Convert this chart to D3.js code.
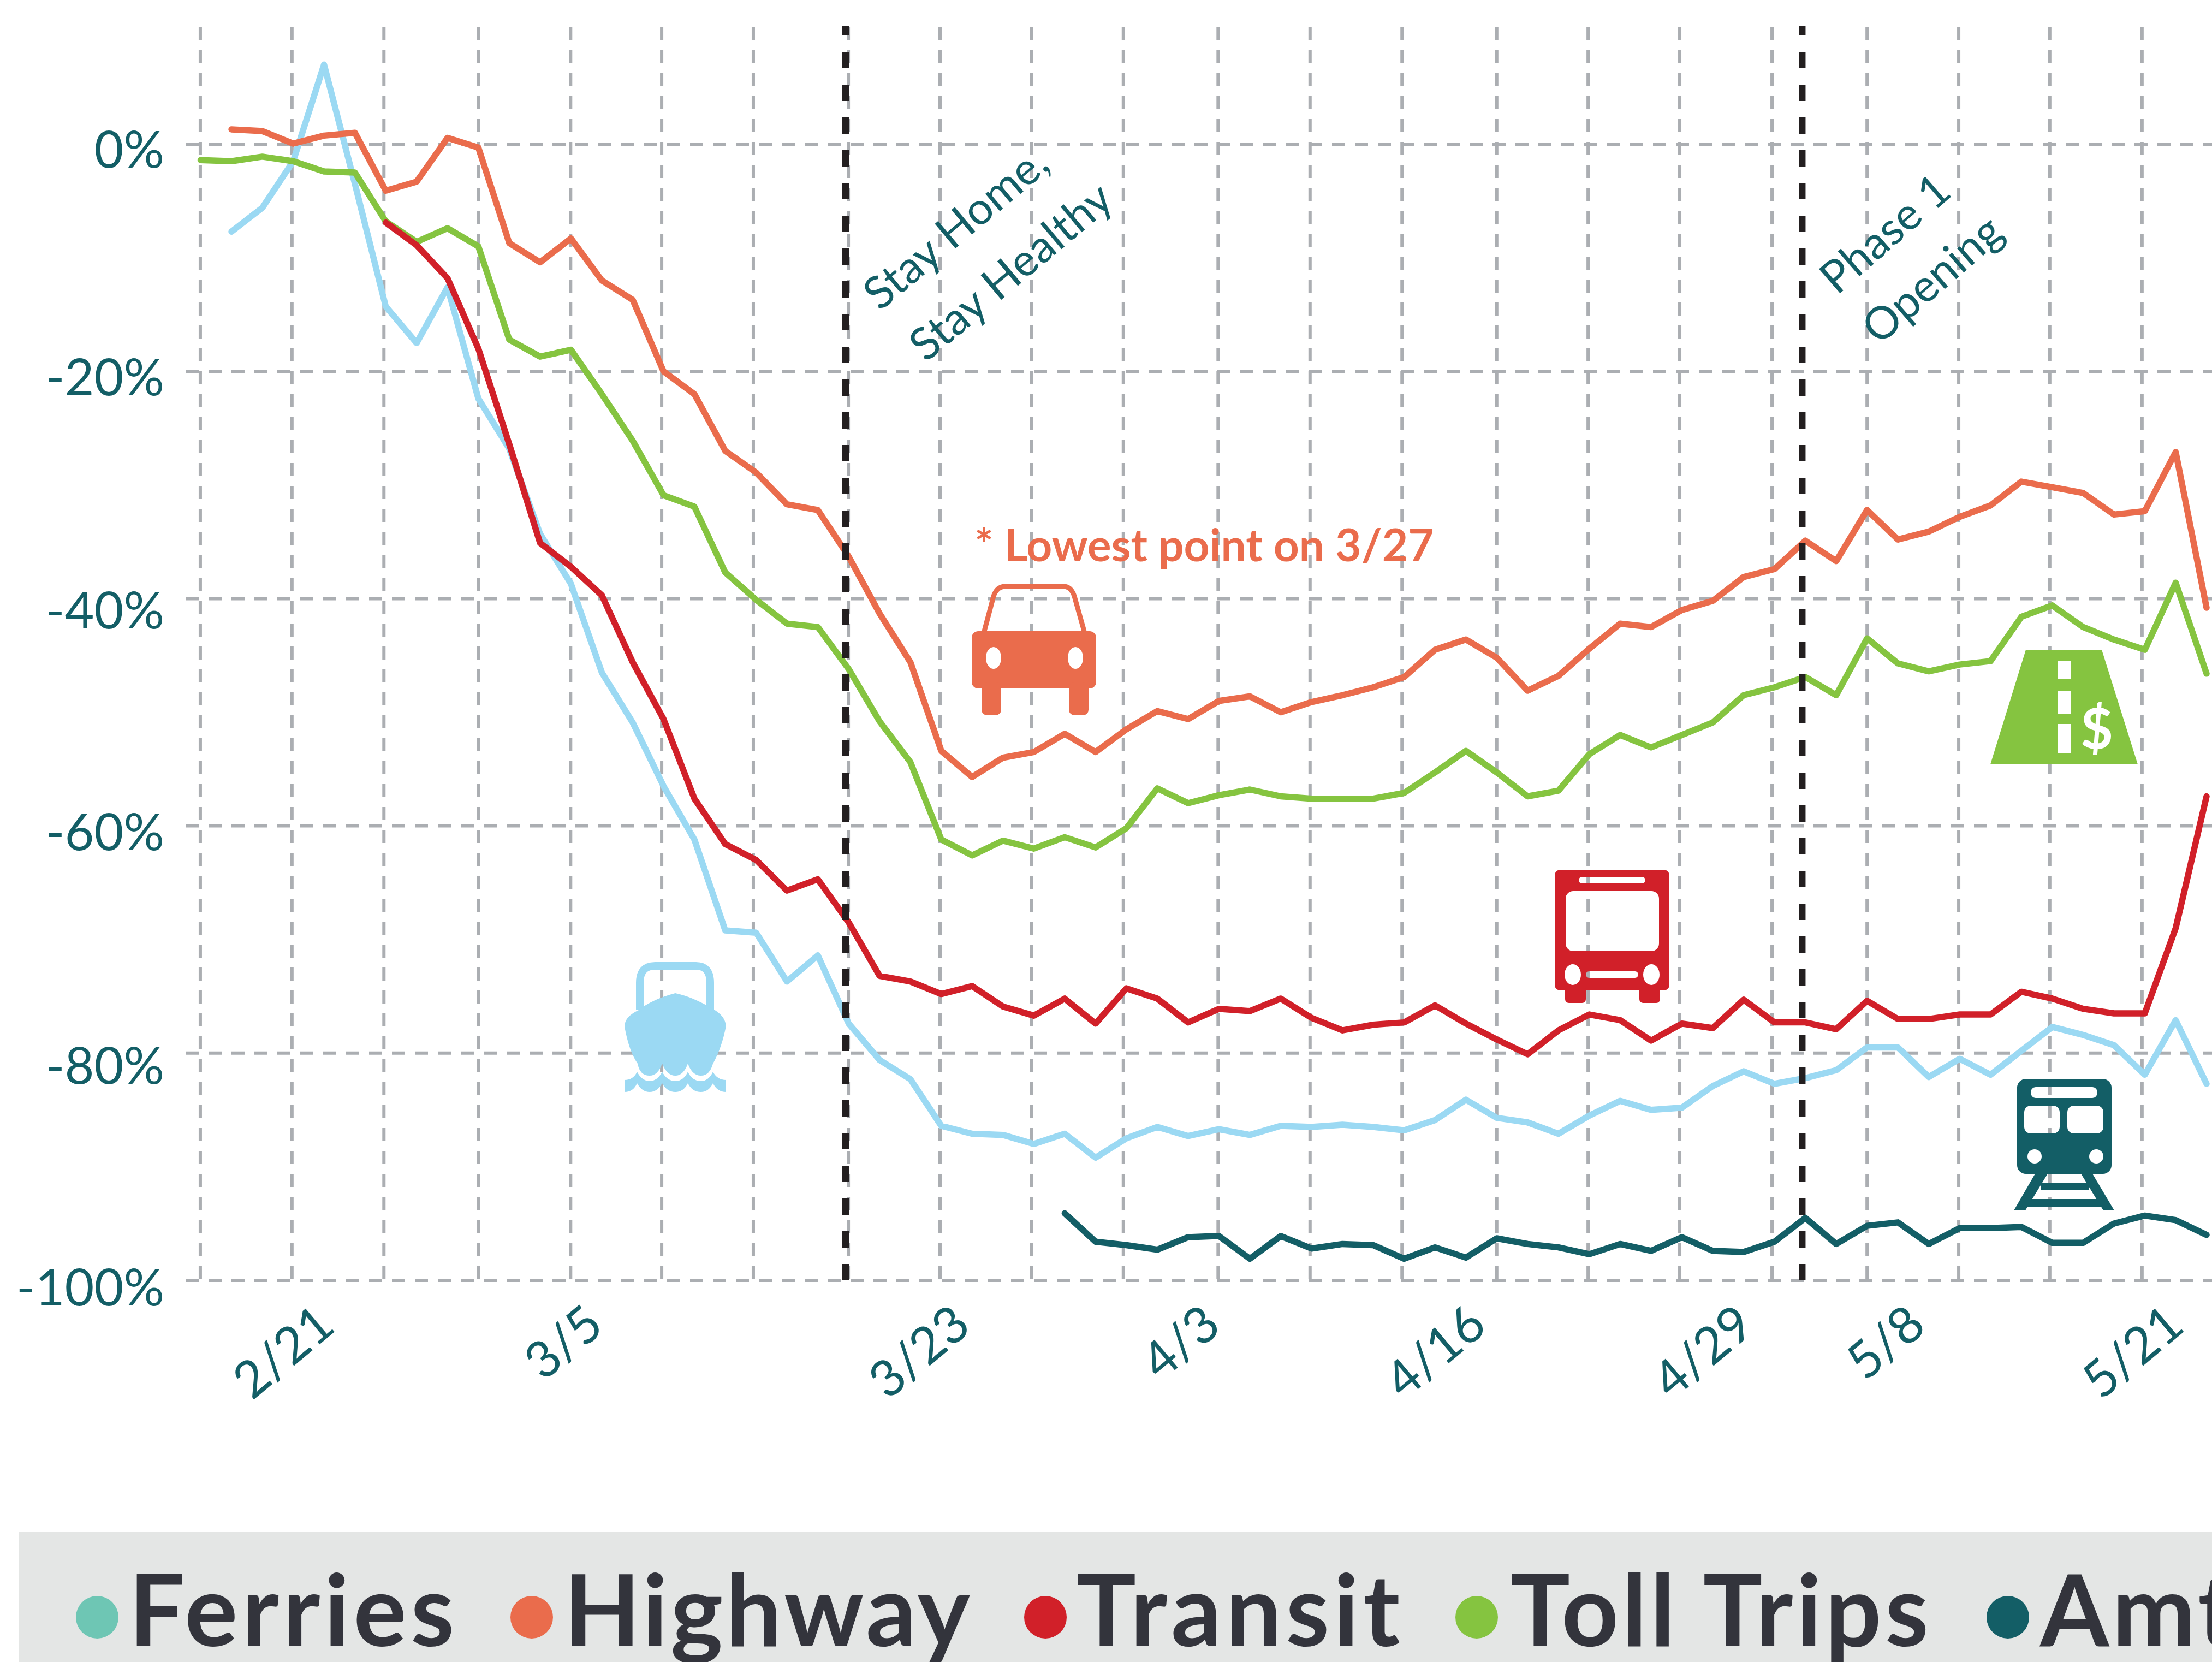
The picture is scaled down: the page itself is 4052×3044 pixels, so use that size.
<!DOCTYPE html>
<html>
<head>
<meta charset="utf-8">
<script src="https://cdn.jsdelivr.net/npm/d3@7"></script>
<style>
    html, body { margin: 0; padding: 0; background: #fff; }
    svg { display: block; font-family: Lato, sans-serif; }
</style>
</head>
<body>
<div id="visual"></div>
<script>
// Values, % change, one entry per day step
const ferries = [-7.7,-5.6,-1.5,7.0,-3.5,-14.3,-17.5,-12.6,-22.4,-26.8,-34.3,-38.7,-46.5,-50.9,-56.5,-61.2,-69.2,-69.4,-73.7,-71.4,-77.4,-80.6,-82.3,-86.4,-87.1,-87.2,-88.0,-87.1,-89.2,-87.5,-86.5,-87.3,-86.7,-87.2,-86.4,-86.5,-86.3,-86.5,-86.8,-85.9,-84.1,-85.7,-86.1,-87.1,-85.5,-84.2,-85.0,-84.8,-82.9,-81.6,-82.7,-82.2,-81.5,-79.5,-79.5,-82.1,-80.5,-81.9,-79.8,-77.7,-78.4,-79.3,-81.9,-77.1,-82.7];
const highway = [1.3,1.15,0.05,0.75,1.0,-4.1,-3.3,0.55,-0.3,-8.7,-10.4,-8.3,-12.0,-13.7,-20.0,-22.0,-27.0,-28.9,-31.7,-32.2,-36.3,-41.3,-45.6,-53.4,-55.7,-54.0,-53.5,-51.9,-53.5,-51.5,-49.9,-50.6,-49.0,-48.6,-50.0,-49.1,-48.5,-47.8,-46.9,-44.5,-43.6,-45.2,-48.1,-46.8,-44.4,-42.2,-42.5,-41.0,-40.2,-38.1,-37.4,-34.9,-36.7,-32.2,-34.8,-34.1,-32.8,-31.8,-29.7,-30.2,-30.7,-32.6,-32.3,-27.1,-40.8];
const transit = [-6.9,-8.9,-11.8,-18.0,-26.4,-35.1,-37.2,-39.7,-45.6,-50.6,-57.6,-61.6,-63.0,-65.7,-64.7,-68.5,-73.2,-73.7,-74.8,-74.1,-75.9,-76.7,-75.2,-77.4,-74.3,-75.2,-77.3,-76.1,-76.3,-75.2,-76.9,-78.0,-77.5,-77.3,-75.8,-77.4,-78.8,-80.1,-78.0,-76.6,-77.1,-78.9,-77.4,-77.8,-75.3,-77.3,-77.3,-77.9,-75.4,-77.0,-77.0,-76.6,-76.6,-74.6,-75.2,-76.1,-76.5,-76.5,-69.0,-57.4];
const tollTrips = [-1.4,-1.5,-1.1,-1.5,-2.4,-2.5,-6.8,-8.6,-7.4,-9.0,-17.2,-18.7,-18.1,-22.0,-26.1,-30.9,-31.9,-37.7,-40.1,-42.2,-42.5,-46.2,-50.8,-54.4,-61.2,-62.6,-61.3,-62.0,-61.0,-61.9,-60.2,-56.7,-58.0,-57.3,-56.8,-57.4,-57.6,-57.6,-57.6,-57.1,-55.3,-53.4,-55.3,-57.4,-56.9,-53.7,-52.0,-53.1,-52.0,-50.9,-48.5,-47.8,-46.9,-48.5,-43.5,-45.7,-46.4,-45.8,-45.5,-41.6,-40.6,-42.5,-43.6,-44.5,-38.6,-46.6];
const amtrak = [-94.1,-96.6,-96.9,-97.3,-96.2,-96.1,-98.1,-96.1,-97.2,-96.8,-96.9,-98.1,-97.1,-98.0,-96.3,-96.8,-97.1,-97.7,-96.8,-97.4,-96.2,-97.4,-97.5,-96.6,-94.5,-96.8,-95.2,-94.9,-96.8,-95.4,-95.4,-95.3,-96.7,-96.7,-95.0,-94.3,-94.7,-96.0];

// first day step of each series on the x scale
const ferriesStart = 0, highwayStart = 0, transitStart = 5, tollStart = -1, amtrakStart = 27;

const yTicks = [0, -20, -40, -60, -80, -100];
const gridTicks = [-1.01,1.96,4.94,8.01,10.99,13.94,16.91,19.99,22.96,25.93,28.90,31.97,34.95,37.93,41.0,43.96,46.93,49.92,53.0,55.97,58.92,61.91];
const dateLabels = ["2/21","3/5","3/23","4/3","4/16","4/29","5/8","5/21"];
const dateTicks = [3.43,12.14,24.03,32.14,40.75,49.43,54.98,63.35];
const eventTicks = [19.9, 50.9];

const legendNames = ["Ferries","Highway","Transit","Toll Trips","Amtrak"];
const legendColors = ["#6ec6b4","#ea6c4c","#d12029","#85c440","#135e66"];
const legendDotX = [178, 974, 1915, 2705, 3678];
const legendTextX = [236, 1033, 1972, 2767, 3737];
const legendSpacing = [7.5, 5, 7.7, 6.3, 6];

const teal = "#135e66", gridColor = "#abaeb2";
const width = 4052, height = 3044;
const gridTop = 50, gridBottom = 2345, gridLeft = 340;

const svg = d3.select("#visual").append("svg")
    .attr("width", width)
    .attr("height", height);

// Scales
const x = d3.scaleLinear().domain([-1, 64]).range([367.5, 4042]);
const y = d3.scaleLinear().domain([0, -100]).range([264, gridBottom]);

// Grid
const xGrid = svg.append("g")
    .attr("transform", "translate(0," + gridTop + ")")
    .call(d3.axisTop(x).tickValues(gridTicks).tickSize(-(gridBottom - gridTop)).tickFormat("").offset(0));
const yGrid = svg.append("g")
    .attr("transform", "translate(" + gridLeft + ",0)")
    .call(d3.axisLeft(y).tickValues(yTicks).tickSize(-(width - gridLeft)).tickFormat("").offset(0));
[xGrid, yGrid].forEach(g => {
    g.select(".domain").remove();
    g.selectAll("line")
        .attr("stroke", gridColor)
        .attr("stroke-width", 6)
        .attr("stroke-dasharray", "24 18");
});

// Y labels
const yLabelNudge = [43, 44, 55, 44, 56, 46];
const yAxis = svg.append("g")
    .attr("transform", "translate(301,0)")
    .call(d3.axisLeft(y).tickValues(yTicks).tickSize(0).tickPadding(0).tickFormat(d => d + "%").offset(0));
yAxis.select(".domain").remove();
yAxis.selectAll("text")
    .attr("font-family", "Lato")
    .attr("font-size", 93)
    .attr("fill", teal)
    .attr("dy", 0)
    .attr("y", (d, i) => yLabelNudge[i]);

// X labels
const xAxis = svg.append("g")
    .attr("transform", "translate(0,2435)")
    .call(d3.axisBottom(x).tickValues(dateTicks).tickSize(0).tickPadding(0).tickFormat((d, i) => dateLabels[i]).offset(0));
xAxis.select(".domain").remove();
xAxis.selectAll("text")
    .attr("font-family", "Lato")
    .attr("font-size", 93)
    .attr("fill", teal)
    .attr("y", 0)
    .attr("dy", 0)
    .attr("text-anchor", "end")
    .attr("transform", "rotate(-40)");

// Icons sit under the lines, holes let the grid show through
const rr = (x0, y0, x1, y1, r) => {
    const p = d3.path();
    p.moveTo(x0 + r, y0);
    p.arcTo(x1, y0, x1, y1, r);
    p.arcTo(x1, y1, x0, y1, r);
    p.arcTo(x0, y1, x0, y0, r);
    p.arcTo(x0, y0, x1, y0, r);
    p.closePath();
    return p.toString();
};
const oval = (cx, cy, rx, ry) =>
    "M" + (cx - rx) + "," + cy + "a" + rx + "," + ry + " 0 1,0 " + (2 * rx) + ",0a" + rx + "," + ry + " 0 1,0 " + (-2 * rx) + ",0Z";
const icons = svg.append("g").attr("fill-rule", "evenodd");

// car
icons.append("path").attr("fill", "#ea6c4c").attr("d",
    rr(1780, 1156, 2008, 1261, 12) + oval(1820, 1205, 14, 20) + oval(1970, 1205, 14, 20));
icons.append("path").attr("fill", "#ea6c4c").attr("d", rr(1798, 1250, 1834, 1310, 10));
icons.append("path").attr("fill", "#ea6c4c").attr("d", rr(1958, 1250, 1994, 1310, 10));
icons.append("path").attr("fill", "none").attr("stroke", "#ea6c4c").attr("stroke-width", 9)
    .attr("d", "M1803,1156L1820,1092Q1826,1074 1842,1074H1948Q1962,1074 1968,1092L1986,1156");

// bus
icons.append("path").attr("fill", "#d12029").attr("d",
    rr(2848, 1593, 3058, 1814, 10) + rr(2868, 1632, 3039, 1742, 14) + rr(2892, 1606, 3014, 1618, 6) +
    rr(2905, 1779, 3001, 1791, 6) + oval(2881, 1785, 15, 19) + oval(3025, 1785, 15, 19));
icons.append("path").attr("fill", "#d12029").attr("d", rr(2867, 1805, 2905, 1837, 7));
icons.append("path").attr("fill", "#d12029").attr("d", rr(3003, 1805, 3041, 1837, 7));

// toll road
icons.append("path").attr("fill", "#85c440").attr("d",
    "M3711,1190H3850L3916,1400H3646Z" + "M3769,1211H3793V1244H3769Z" + "M3769,1265H3793V1307H3769Z" + "M3769,1326H3793V1380H3769Z");
icons.append("text")
    .attr("x", 3841).attr("y", 1371)
    .attr("text-anchor", "middle")
    .attr("font-size", 104)
    .attr("font-weight", 700)
    .attr("fill", "#fff")
    .text("$");

// train
icons.append("path").attr("fill", teal).attr("d",
    rr(3695, 1976, 3868, 2150, 16) + rr(3720, 1991, 3842, 2011, 9) + rr(3708, 2025, 3773, 2076, 12) +
    rr(3787, 2025, 3853, 2076, 12) + oval(3727, 2118, 13, 13) + oval(3840, 2118, 13, 13));
icons.append("path").attr("fill", teal).attr("d",
    "M3729,2148H3752L3710,2217H3689Z" + "M3811,2148H3832L3873,2217H3853Z");
icons.append("path").attr("fill", teal).attr("d",
    "M3738,2167H3826V2180H3738Z");
icons.append("path").attr("fill", teal).attr("d",
    "M3712,2196H3850V2210H3712Z");

// ferry
const ferryBlue = "#9bd9f3";
icons.append("path").attr("fill", "none").attr("stroke", ferryBlue).attr("stroke-width", 14)
    .attr("d", "M1172,1850V1800Q1172,1769 1200,1769H1275Q1301,1769 1301,1800V1850");
icons.append("path").attr("fill", ferryBlue).attr("d",
    "M1237,1819Q1195,1830 1170,1850Q1144,1862 1144,1880Q1152,1925 1168,1948Q1172,1970 1190,1970Q1205,1970 1213,1948Q1222,1970 1237,1970Q1252,1970 1260,1948Q1268,1970 1284,1970Q1300,1970 1306,1948Q1322,1920 1330,1879Q1328,1860 1306,1848Q1270,1826 1237,1819Z");
icons.append("path").attr("fill", ferryBlue).attr("d",
    "M1144,1978Q1160,1978 1167,1963Q1176,1980 1190,1980Q1204,1980 1213,1963Q1222,1980 1237,1980Q1252,1980 1260,1963Q1268,1980 1284,1980Q1298,1980 1306,1963Q1314,1978 1330,1978V2000Q1314,2000 1306,1984Q1298,2000 1284,2000Q1268,2000 1260,1984Q1252,2000 1237,2000Q1222,2000 1213,1984Q1204,2000 1190,2000Q1176,2000 1167,1984Q1160,2000 1144,2000Z");

// Lines
const line = d3.line()
    .x(d => x(d.i))
    .y(d => y(d.v));
const lineSeries = [
    { values: ferries, start: ferriesStart, color: ferryBlue },
    { values: highway, start: highwayStart, color: "#ea6c4c" },
    { values: tollTrips, start: tollStart, color: "#85c440" },
    { values: transit, start: transitStart, color: "#d12029" },
    { values: amtrak, start: amtrakStart, color: teal }
];
lineSeries.forEach(s => {
    svg.append("path")
        .datum(s.values.map((v, k) => ({ i: s.start + k, v: v })))
        .attr("fill", "none")
        .attr("stroke", s.color)
        .attr("stroke-width", 11.5)
        .attr("stroke-linecap", "round")
        .attr("stroke-linejoin", "round")
        .attr("d", line);
});

// Event lines
svg.selectAll(".event")
    .data(eventTicks)
    .enter().append("line")
    .attr("class", "event")
    .attr("x1", d => x(d))
    .attr("x2", d => x(d))
    .attr("y1", 47)
    .attr("y2", gridBottom)
    .attr("stroke", "#231f20")
    .attr("stroke-width", 12)
    .attr("stroke-dasharray", "30 30")
    .attr("stroke-dashoffset", 12);

// Annotations
const note = (tx, ty, angle, str) => svg.append("text")
    .attr("transform", "translate(" + tx + "," + ty + ") rotate(" + angle + ")")
    .attr("font-size", 82)
    .attr("fill", teal)
    .text(str);
note(1612, 571, -40, "Stay Home,");
note(1696, 665, -40, "Stay Healthy");
note(3365, 542, -41, "Phase 1");
note(3442, 634, -41, "Opening");

svg.append("text")
    .attr("x", 1785)
    .attr("y", 1028)
    .attr("font-size", 82)
    .attr("font-weight", 700)
    .attr("fill", "#ea6c4c")
    .text("* Lowest point on 3/27");

// Legend
svg.append("rect")
    .attr("x", 34)
    .attr("y", 2805)
    .attr("width", width - 34)
    .attr("height", height - 2805)
    .attr("fill", "#e4e6e5");

svg.selectAll(".dot")
    .data(legendNames)
    .enter().append("circle")
    .attr("class", "dot")
    .attr("cx", (d, i) => legendDotX[i])
    .attr("cy", 2962)
    .attr("r", 39)
    .attr("fill", (d, i) => legendColors[i]);

svg.selectAll(".legendText")
    .data(legendNames)
    .enter().append("text")
    .attr("class", "legendText")
    .attr("x", (d, i) => legendTextX[i])
    .attr("y", 3015)
    .attr("font-size", 182)
    .attr("font-weight", 700)
    .attr("letter-spacing", (d, i) => legendSpacing[i])
    .attr("fill", "#33343c")
    .text(d => d);
</script>
</body>
</html>
